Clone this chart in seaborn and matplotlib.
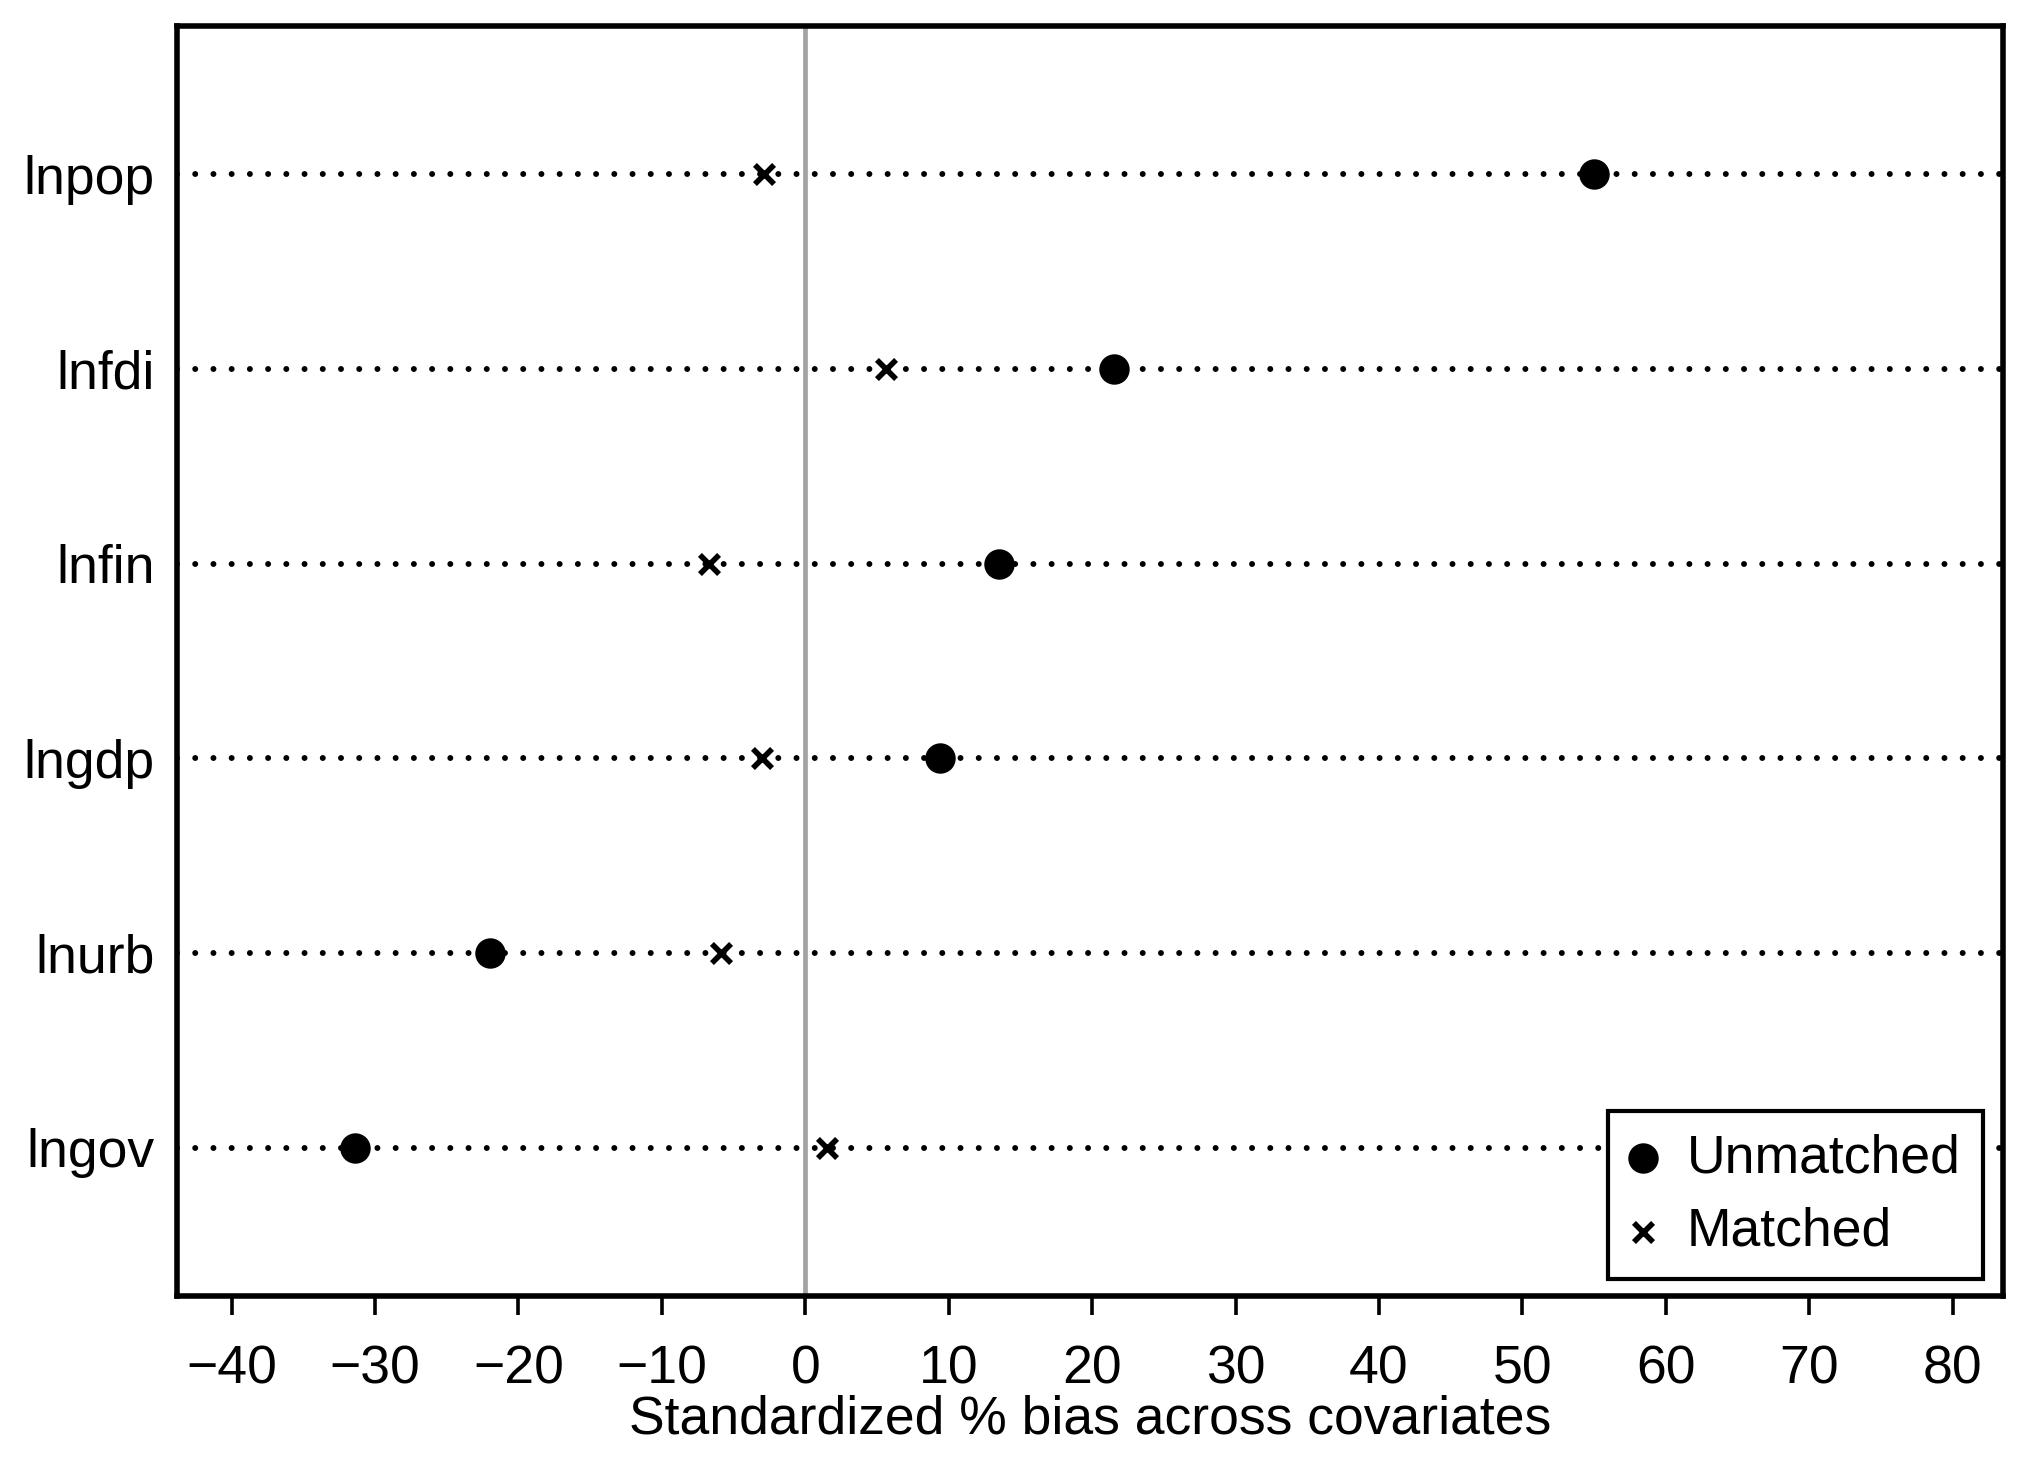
import matplotlib
matplotlib.use("Agg")
import matplotlib.pyplot as plt
import seaborn as sns
import pandas as pd

covariates = ["lnpop", "lnfdi", "lnfin", "lngdp", "lnurb", "lngov"]
unmatched = [55.0, 21.5, 13.5, 9.4, -22.0, -31.4]
matched = [-2.9, 5.6, -6.7, -3.0, -5.9, 1.5]
xticks = [-40, -30, -20, -10, 0, 10, 20, 30, 40, 50, 60, 70, 80]

df_u = pd.DataFrame({"covariate": covariates, "bias": unmatched})
df_m = pd.DataFrame({"covariate": covariates, "bias": matched})

sns.set_style("white")
plt.rcParams["font.family"] = ["Liberation Sans", "DejaVu Sans"]
plt.rcParams["text.color"] = "black"
plt.rcParams["axes.labelcolor"] = "black"
plt.rcParams["xtick.color"] = "black"
plt.rcParams["ytick.color"] = "black"

fig = plt.figure(figsize=(20.26, 14.61), dpi=100)
ax = fig.add_axes([177 / 2026, 1 - 1296 / 1461, (2003 - 177) / 2026, (1296 - 26) / 1461])

# dotted guide lines for each covariate
for i in range(len(covariates)):
    ax.axhline(i, color="black", linewidth=4.3, linestyle=(0, (0.001, 3.05)),
               dash_capstyle="round", zorder=1)
ax.axvline(0, color="#a3a3a3", linewidth=3.4, zorder=0.5)

sns.scatterplot(data=df_u, x="bias", y="covariate", marker="o", s=480, color="black",
                edgecolor="black", linewidth=0, label="Unmatched", ax=ax, zorder=3)
sns.scatterplot(data=df_m, x="bias", y="covariate", marker="x", s=190, color="black",
                linewidth=4.0, label="Matched", ax=ax, zorder=3)

ax.set_xlim(-43.8, 83.5)
ax.set_ylim(5.76, -0.76)
ax.set_xticks(xticks)
ax.set_xticklabels([str(t).replace("-", "\u2212") for t in xticks])
ax.tick_params(axis="x", length=14, width=2.6, colors="black", labelsize=38.5, pad=21, bottom=True)
ax.tick_params(axis="y", length=0, labelsize=38.5, pad=16, left=True, colors="black")
ax.set_xlabel("Standardized % bias across covariates", fontsize=38.5, labelpad=0, color="black")
ax.set_ylabel("")
for sp in ax.spines.values():
    sp.set_color("black")
    sp.set_linewidth(4.0)

leg = ax.legend(loc="lower right", bbox_to_anchor=(1983 / 2026, 1 - 1279 / 1461),
                bbox_transform=fig.transFigure, borderaxespad=0, fontsize=38.5,
                frameon=True, fancybox=False, edgecolor="black", framealpha=1,
                handletextpad=0.59, labelspacing=0.44, borderpad=0.42, handlelength=0.46,
                markerscale=1.0)
leg.get_frame().set_linewidth(3.0)
for t in leg.get_texts():
    t.set_color("black")

fig.savefig("out.png", dpi=100)
